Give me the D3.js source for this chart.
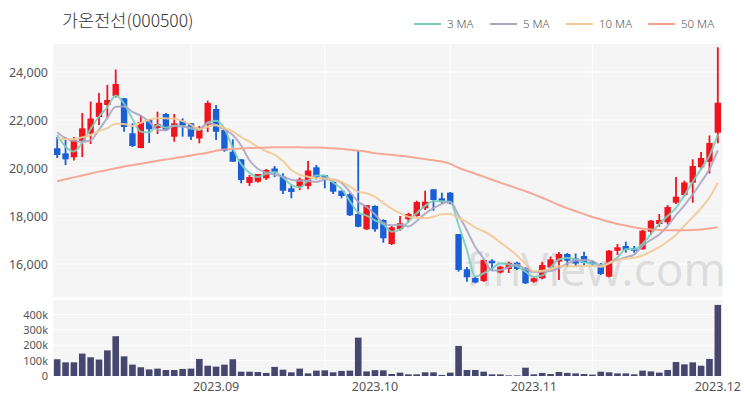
<!DOCTYPE html>
<html><head><meta charset="utf-8">
<script src="https://cdn.jsdelivr.net/npm/d3@7"></script>
<style>body{margin:0;background:#fff}svg{display:block}</style>
</head><body><svg id="c" width="750" height="400"></svg>
<script>
const dates = [
"2023-08-04","2023-08-07","2023-08-08","2023-08-09","2023-08-10","2023-08-11","2023-08-14","2023-08-16","2023-08-17","2023-08-18",
"2023-08-21","2023-08-22","2023-08-23","2023-08-24","2023-08-25","2023-08-28","2023-08-29","2023-08-30","2023-08-31",
"2023-09-01","2023-09-04","2023-09-05","2023-09-06","2023-09-07","2023-09-08","2023-09-11","2023-09-12","2023-09-13","2023-09-14","2023-09-15",
"2023-09-18","2023-09-19","2023-09-20","2023-09-21","2023-09-22","2023-09-25","2023-09-26","2023-09-27",
"2023-10-04","2023-10-05","2023-10-06","2023-10-10","2023-10-11","2023-10-12","2023-10-13","2023-10-16","2023-10-17","2023-10-18","2023-10-19","2023-10-20",
"2023-10-23","2023-10-24","2023-10-25","2023-10-26","2023-10-27","2023-10-30","2023-10-31",
"2023-11-01","2023-11-02","2023-11-03","2023-11-06","2023-11-07","2023-11-08","2023-11-09","2023-11-10","2023-11-13","2023-11-14","2023-11-15","2023-11-16","2023-11-17",
"2023-11-20","2023-11-21","2023-11-22","2023-11-23","2023-11-24","2023-11-27","2023-11-28","2023-11-29","2023-11-30",
"2023-12-01"];
const open  = [20821,20612,20446,21125,21437,22125,22625,23000,22904,21446,20833,22029,21667,22250,21304,21958,21862,21229,21792,22458,
21583,20679,20362,19375,19429,19571,19979,19646,19154,19208,19250,20029,19708,19429,19054,18904,18083,17446,18417,17833,
16833,17446,17862,18000,18321,19112,18737,18971,17250,15779,15417,15292,16137,15646,15792,16054,15821,15262,15404,15854,
16096,16417,16229,16333,16083,15958,15471,16554,16750,16654,16612,17346,17667,17737,18554,18875,19387,20029,20262,21471];
const high  = [21292,21280,21292,22292,22771,23125,23458,24104,22917,21862,22208,22042,22346,22292,22250,22071,21875,21750,22804,22625,
21583,21196,20362,19708,19750,19958,20083,19779,19292,19604,20292,20125,19708,19429,19054,18946,20721,18458,18446,17862,
17583,18000,18137,18637,19054,19112,18971,19000,17250,15875,15500,16196,16196,15917,16096,16096,15862,15471,16083,16312,
16500,16458,16437,16512,16137,16042,16583,16833,16929,16750,17417,17833,18083,18458,19625,19471,20362,20667,21354,25029];
const low   = [20417,20125,20313,20458,21000,21792,22083,22937,21512,20875,20821,21042,21417,21562,21096,21304,21167,21029,21500,21167,
20679,20262,19362,19250,19388,19500,19625,18917,18737,19083,19112,19521,19154,18917,18737,18000,17529,17417,17346,16887,
16792,17387,17721,17971,18250,18221,18500,18487,15679,15262,15196,15250,15708,15612,15625,15750,15167,15221,15362,15821,
15333,15875,15875,15937,15917,15542,15446,16375,16471,16471,16604,17208,17554,17646,18500,18804,18554,19937,19771,21029];
const close = [20542,20362,21167,21654,22062,22721,22833,23500,21708,20917,21917,21612,21833,21583,21862,21771,21304,21687,22708,21512,
20721,20262,19500,19625,19750,19917,19833,19054,19000,19529,19896,19625,19542,19012,18833,18029,17554,18458,17446,17071,
17529,17696,18083,18583,18596,18667,18596,18529,15750,15446,15229,16167,16029,15887,16042,15792,15196,15404,15958,16196,
16417,16137,16021,16042,16000,15583,16554,16696,16583,16554,17387,17804,17833,18375,18804,19396,20083,20417,21042,22721];
const volume = [109000,89000,89000,146000,122000,107000,167000,259000,128000,74000,57000,43000,48000,39000,39000,46000,48000,111000,67000,61000,
74000,109000,28000,28000,26000,20000,59000,41000,24000,48000,17000,35000,37000,24000,33000,35000,250000,30000,38000,37000,
13000,22000,11000,11000,24000,24000,7000,22000,196000,39000,39000,28000,11000,11000,4000,4000,54000,11000,20000,13000,
26000,20000,17000,13000,9000,28000,24000,17000,17000,11000,35000,30000,22000,39000,91000,76000,89000,67000,111000,463000];
// closes of the nine sessions before the first candle (read from where the short averages start)
const priorCloses = [20900,21050,20950,21100,21065,21610,21700,21826,21757];
// 50-day average as drawn
const ma50 = [19450,19530,19610,19690,19770,19850,19920,19990,20060,20120,20180,20240,20300,20350,20410,20460,20520,20580,20640,20720,
20770,20790,20810,20830,20840,20850,20860,20860,20860,20860,20855,20850,20840,20820,20800,20760,20720,20680,20620,20580,
20550,20510,20470,20420,20370,20320,20270,20170,20010,19880,19760,19640,19510,19390,19270,19150,19030,18900,18760,18610,
18460,18320,18200,18080,17960,17860,17760,17670,17600,17530,17470,17440,17420,17410,17410,17410,17420,17440,17480,17530];
const priceTicks = [16000,18000,20000,22000,24000];
const volTicks = [0,100000,200000,300000,400000];
const monthTicks = ["2023-09-01","2023-10-04","2023-11-01","2023-12-01"];
const monthLabels = ["2023.09","2023.10","2023.11","2023.12"];
const gridDates = ["2023-08-29","2023-09-20","2023-10-18","2023-11-10"];
const title = "가온전선(000500)";
const legendNames = ["3 MA","5 MA","10 MA","50 MA"];
const maColors = ["#78cfbd","#aca6c4","#f2c994","#f6a08e"];

const svg = d3.select("#c");
const L=53, R=722, mTop=44, mBot=297, vTop=300, vBot=376;
const x = d3.scaleBand().domain(dates).range([L,R]).padding(0);
const y = d3.scaleLinear().domain([14625,25167]).range([mBot,mTop]);
const yv = d3.scaleLinear().domain([0,495000]).range([vBot,vTop]);
const cx = d => x(d)+x.bandwidth()/2;
const font = "'Noto Sans','Noto Sans CJK KR',sans-serif";

svg.append("rect").attr("x",L).attr("y",mTop).attr("width",R-L).attr("height",mBot-mTop).attr("fill","#f5f5f5");
svg.append("rect").attr("x",L).attr("y",vTop).attr("width",R-L).attr("height",vBot-vTop).attr("fill","#f5f5f5");

// grids
const gp = svg.append("g");
priceTicks.forEach(t=>gp.append("line").attr("x1",L).attr("x2",R).attr("y1",y(t)).attr("y2",y(t)).attr("stroke","#fff").attr("stroke-width",1));
volTicks.slice(1).forEach(t=>gp.append("line").attr("x1",L).attr("x2",R).attr("y1",yv(t)).attr("y2",yv(t)).attr("stroke","#fff").attr("stroke-width",1));
gridDates.forEach(d=>{
  gp.append("line").attr("x1",cx(d)).attr("x2",cx(d)).attr("y1",mTop).attr("y2",mBot).attr("stroke","#fff").attr("stroke-width",1);
  gp.append("line").attr("x1",cx(d)).attr("x2",cx(d)).attr("y1",vTop).attr("y2",vBot).attr("stroke","#fff").attr("stroke-width",1);
});

// watermark
svg.append("text").attr("x",726).attr("y",286).attr("text-anchor","end")
  .attr("font-family","'Open Sans',sans-serif").attr("font-size",46).attr("fill","#c8c8c8").attr("opacity",0.55)
  .text("finView.com");

// axes
const ya = d3.axisLeft(y).tickValues(priceTicks).tickFormat(d3.format(",")).tickSize(0).tickPadding(4);
const yg = svg.append("g").attr("transform",`translate(${L-1},0)`).call(ya);
const yva = d3.axisLeft(yv).tickValues(volTicks).tickFormat(d=>d===0?"0":(d/1000)+"k").tickSize(0).tickPadding(4);
const yvg = svg.append("g").attr("transform",`translate(${L-1},0)`).call(yva);
const xa = d3.axisBottom(x).tickValues(monthTicks).tickFormat((d,i)=>monthLabels[i]).tickSize(0).tickPadding(6);
const xg = svg.append("g").attr("transform",`translate(0,${vBot})`).call(xa);
[yg,xg].forEach(g=>{g.select(".domain").remove();g.selectAll("text").attr("font-family",font).attr("font-size",12.5).attr("fill","#555");});
yvg.select(".domain").remove();
yvg.selectAll("text").attr("font-family",font).attr("font-size",11).attr("fill","#555");

// candles
const data = dates.map((d,i)=>({d,o:open[i],h:high[i],l:low[i],c:close[i],v:volume[i]}));
const up="#f0141e", dn="#1a5fd6";
const bw = 6.4;
const cg = svg.append("g");
cg.selectAll("line").data(data).join("line")
  .attr("x1",d=>cx(d.d)).attr("x2",d=>cx(d.d)).attr("y1",d=>y(d.h)).attr("y2",d=>y(d.l))
  .attr("stroke",d=>d.c>=d.o?up:dn).attr("stroke-width",1.8);
cg.selectAll("rect").data(data).join("rect")
  .attr("x",d=>cx(d.d)-bw/2).attr("width",bw)
  .attr("y",d=>y(Math.max(d.o,d.c))).attr("height",d=>Math.max(1.5,Math.abs(y(d.o)-y(d.c))))
  .attr("fill",d=>d.c>=d.o?up:dn);

// volume
svg.append("g").selectAll("rect").data(data).join("rect")
  .attr("x",d=>cx(d.d)-3.3).attr("width",6.6)
  .attr("y",d=>yv(d.v)).attr("height",d=>vBot-yv(d.v)).attr("fill","#46476e");

// moving averages
const allC = priorCloses.concat(close);
const off = priorCloses.length;
function ma(n){return close.map((c,i)=>d3.mean(allC.slice(i+off-n+1,i+off+1)));}
const maSeries = [ma(3),ma(5),ma(10),ma50];
const line = d3.line().x((v,i)=>cx(dates[i])).y(v=>y(v)).curve(d3.curveMonotoneX);
maSeries.forEach((s,k)=>{
  svg.append("path").attr("d",line(s)).attr("fill","none").attr("stroke",maColors[k]).attr("stroke-width",2).attr("opacity",0.9);
});

// title
svg.append("text").attr("x",62).attr("y",27).attr("font-family","'Noto Sans CJK KR',sans-serif").attr("font-size",17.5).attr("font-weight",300).attr("fill","#333").text(title);

// legend
const lx = [414,490,566,648];
legendNames.forEach((n,k)=>{
  svg.append("line").attr("x1",lx[k]).attr("x2",lx[k]+27).attr("y1",24).attr("y2",24).attr("stroke",maColors[k]).attr("stroke-width",2);
  svg.append("text").attr("x",lx[k]+33).attr("y",28).attr("font-family",font).attr("font-size",11.5).attr("font-weight",300).attr("fill","#555").text(n);
});
</script></body></html>
